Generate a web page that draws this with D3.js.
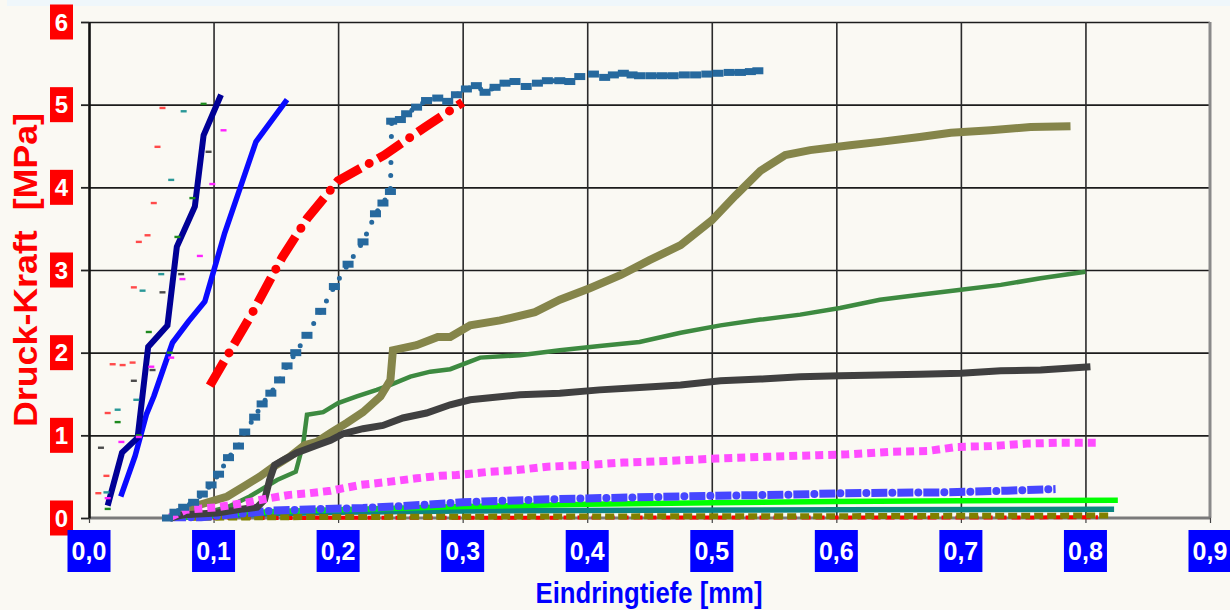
<!DOCTYPE html>
<html>
<head>
<meta charset="utf-8">
<script src="https://cdn.jsdelivr.net/npm/d3@7"></script>
<style>
  html, body { margin: 0; padding: 0; background: #FAF9F3; }
  svg { display: block; }
</style>
</head>
<body>
<svg id="chart" width="1230" height="610"></svg>
<script>
// ---- axis ticks ----
const yTickValues = [0, 1, 2, 3, 4, 5, 6];
const yTickLabels = ["0", "1", "2", "3", "4", "5", "6"];
const xTickValues = [0, 0.1, 0.2, 0.3, 0.4, 0.5, 0.6, 0.7, 0.8, 0.9];
const xTickLabels = ["0,0", "0,1", "0,2", "0,3", "0,4", "0,5", "0,6", "0,7", "0,8", "0,9"];

// ---- measured series: [Eindringtiefe mm, Druck-Kraft MPa] ----
const navySeries = [[0.015,0.15],[0.0265,0.79],[0.039,0.97],[0.0475,2.07],[0.063,2.33],[0.0705,3.28],[0.085,3.77],[0.092,4.63],[0.106,5.12]];
const blueSeries = [[0.0255,0.26],[0.037,0.75],[0.046,1.25],[0.052,1.47],[0.067,2.12],[0.08,2.38],[0.093,2.62],[0.109,3.45],[0.134,4.55],[0.159,5.06]];
const redDashDot = [[0.097,1.6],[0.13,2.45],[0.155,3.15],[0.175,3.62],[0.2,4.08],[0.237,4.39],[0.27,4.73],[0.3,5.03]];
const steelSeries = [[0.063,0.0],[0.069,0.07],[0.076,0.13],[0.084,0.19],[0.091,0.29],[0.098,0.4],[0.104,0.53],[0.112,0.73],[0.12,0.87],[0.125,1.04],[0.133,1.22],[0.139,1.38],[0.146,1.51],[0.153,1.67],[0.159,1.84],[0.166,2.0],[0.175,2.21],[0.186,2.5],[0.197,2.8],[0.208,3.07],[0.22,3.34],[0.23,3.68],[0.236,3.81],[0.242,3.95],[0.243,4.8],[0.25,4.82],[0.255,4.89],[0.263,4.97],[0.271,5.05],[0.28,5.08],[0.288,5.04],[0.295,5.12],[0.303,5.19],[0.311,5.23],[0.318,5.15],[0.326,5.21],[0.334,5.26],[0.342,5.28],[0.351,5.22],[0.36,5.26],[0.368,5.29],[0.378,5.29],[0.386,5.28],[0.394,5.34],[0.405,5.37],[0.414,5.33],[0.421,5.36],[0.429,5.38],[0.436,5.36],[0.442,5.35],[0.451,5.35],[0.46,5.35],[0.469,5.35],[0.478,5.36],[0.487,5.36],[0.496,5.37],[0.505,5.38],[0.514,5.39],[0.523,5.39],[0.531,5.4],[0.537,5.41]];
const oliveSeries = [[0.065,0.0],[0.089,0.16],[0.111,0.26],[0.124,0.38],[0.137,0.5],[0.148,0.62],[0.161,0.74],[0.173,0.88],[0.183,0.92],[0.194,1.03],[0.207,1.15],[0.22,1.28],[0.234,1.47],[0.242,1.67],[0.244,2.03],[0.263,2.09],[0.28,2.19],[0.29,2.19],[0.306,2.33],[0.33,2.39],[0.358,2.49],[0.378,2.64],[0.402,2.78],[0.427,2.94],[0.45,3.12],[0.475,3.3],[0.5,3.6],[0.519,3.9],[0.539,4.2],[0.559,4.39],[0.579,4.45],[0.611,4.51],[0.635,4.55],[0.667,4.61],[0.692,4.66],[0.724,4.69],[0.756,4.73],[0.788,4.74]];
const greenSeries = [[0.065,0.0],[0.09,0.05],[0.111,0.13],[0.129,0.26],[0.151,0.46],[0.166,0.56],[0.172,0.9],[0.175,1.25],[0.188,1.28],[0.2,1.39],[0.215,1.47],[0.231,1.55],[0.242,1.61],[0.258,1.71],[0.274,1.77],[0.29,1.8],[0.314,1.94],[0.346,1.97],[0.378,2.03],[0.41,2.08],[0.442,2.13],[0.475,2.24],[0.507,2.33],[0.539,2.4],[0.571,2.46],[0.603,2.54],[0.635,2.64],[0.667,2.7],[0.7,2.76],[0.732,2.82],[0.764,2.9],[0.8,2.98]];
const graySeries = [[0.065,0.0],[0.076,0.04],[0.103,0.06],[0.124,0.11],[0.135,0.13],[0.141,0.22],[0.145,0.46],[0.149,0.64],[0.156,0.7],[0.167,0.79],[0.183,0.88],[0.194,0.94],[0.204,1.02],[0.22,1.08],[0.236,1.12],[0.252,1.21],[0.271,1.27],[0.29,1.37],[0.306,1.43],[0.346,1.49],[0.378,1.51],[0.41,1.55],[0.442,1.58],[0.475,1.61],[0.507,1.66],[0.539,1.68],[0.571,1.71],[0.603,1.72],[0.635,1.73],[0.667,1.74],[0.7,1.75],[0.732,1.78],[0.764,1.79],[0.804,1.83]];
const magentaSeries = [[0.065,0.01],[0.078,0.1],[0.103,0.13],[0.124,0.18],[0.145,0.24],[0.161,0.28],[0.177,0.3],[0.194,0.33],[0.218,0.4],[0.242,0.44],[0.263,0.48],[0.282,0.51],[0.295,0.52],[0.322,0.56],[0.343,0.58],[0.368,0.62],[0.397,0.64],[0.429,0.67],[0.464,0.69],[0.504,0.72],[0.544,0.74],[0.585,0.76],[0.609,0.77],[0.643,0.8],[0.673,0.81],[0.697,0.86],[0.724,0.87],[0.753,0.9],[0.777,0.91],[0.81,0.91]];
const royalSeries = [[0.065,0.01],[0.09,0.01],[0.12,0.05],[0.148,0.09],[0.19,0.11],[0.22,0.12],[0.27,0.16],[0.3,0.19],[0.316,0.2],[0.378,0.23],[0.44,0.25],[0.504,0.27],[0.557,0.28],[0.606,0.3],[0.684,0.31],[0.737,0.33],[0.776,0.35]];
const limeSeries = [[0.075,0.01],[0.1,0.04],[0.15,0.08],[0.2,0.1],[0.3,0.14],[0.4,0.165],[0.5,0.185],[0.6,0.2],[0.7,0.21],[0.826,0.215]];
const tealSeries = [[0.07,0.0],[0.1,0.03],[0.15,0.05],[0.2,0.07],[0.3,0.085],[0.45,0.095],[0.6,0.1],[0.823,0.105]];
const oliveBaseSeries = [[0.07,0.0],[0.15,0.01],[0.3,0.016],[0.45,0.02],[0.6,0.022],[0.7,0.026],[0.82,0.03]];
const redBaseSeries = [[0.1,0.0],[0.3,0.004],[0.6,0.006],[0.81,0.008]];

// sparse single readings, drawn as short dash markers
const redTicks = [[0.0075,0.3],[0.014,0.51],[0.015,1.27],[0.019,1.86],[0.027,1.85],[0.035,1.88],[0.036,2.79],[0.04,3.34],[0.047,3.42],[0.052,3.81],[0.055,4.49],[0.059,4.96]];
const tealTicks = [[0.014,0.31],[0.023,1.31],[0.038,1.43],[0.043,2.75],[0.058,2.95],[0.066,4.09],[0.076,4.92]];
const greenTicks = [[0.015,0.11],[0.023,1.16],[0.04,1.0],[0.048,2.25],[0.065,2.0],[0.071,3.4],[0.083,3.87],[0.092,5.01]];
const grayTicks = [[0.0096,0.85],[0.036,1.66],[0.051,1.79],[0.059,2.73],[0.074,2.95],[0.096,4.43]];
const magentaTicks = [[0.015,0.24],[0.026,0.92],[0.04,0.98],[0.05,1.83],[0.066,1.94],[0.075,2.89],[0.089,3.17],[0.099,4.04],[0.108,4.69]];

// ---- layout ----
const svg = d3.select("#chart");
const plotL = 89, plotR = 1210, plotT = 22, plotB = 518;
const x = d3.scaleLinear().domain([0, 0.9]).range([plotL, plotR]);
const y = d3.scaleLinear().domain([0, 6]).range([plotB, plotT]);
const FONT = "'Liberation Sans', Arial, Helvetica, sans-serif";

svg.append("rect").attr("width", 1230).attr("height", 610).attr("fill", "#FAF9F3");
svg.append("rect").attr("x", 7).attr("y", 0).attr("width", 1223).attr("height", 6).attr("fill", "#EFF7FB");

// gridlines
const grid = svg.append("g");
grid.append("g")
  .attr("transform", `translate(${plotL},0)`)
  .call(d3.axisLeft(y).tickValues(yTickValues.slice(1)).tickSize(-(plotR - plotL)).tickSizeOuter(0).tickFormat(""))
  .call(g => g.select(".domain").remove())
  .call(g => g.selectAll("line").attr("stroke", "#1c1c1c").attr("stroke-width", 1.6));
grid.append("g")
  .attr("transform", `translate(0,${plotB})`)
  .call(d3.axisBottom(x).tickValues(xTickValues.slice(1, -1)).tickSize(-(plotB - plotT)).tickSizeOuter(0).tickFormat(""))
  .call(g => g.select(".domain").remove())
  .call(g => g.selectAll("line").attr("stroke", "#2a2a2a").attr("stroke-width", 1.6));

// frame
svg.append("line").attr("x1", plotR).attr("x2", plotR).attr("y1", plotT).attr("y2", plotB)
  .attr("stroke", "#8a8a8a").attr("stroke-width", 3);
svg.append("line").attr("x1", plotL).attr("x2", plotR + 1).attr("y1", plotB).attr("y2", plotB)
  .attr("stroke", "#7a7a7a").attr("stroke-width", 3);

// tick marks
svg.append("g").attr("transform", `translate(${plotL},0)`)
  .call(d3.axisLeft(y).tickValues(yTickValues).tickSize(8).tickSizeOuter(0).tickFormat(""))
  .call(g => g.select(".domain").attr("stroke", "#111").attr("stroke-width", 2.6))
  .call(g => g.selectAll(".tick line").attr("stroke", "#222").attr("stroke-width", 1.8));
svg.append("g").attr("transform", `translate(0,${plotB})`)
  .call(d3.axisBottom(x).tickValues(xTickValues).tickSize(5).tickSizeOuter(0).tickFormat(""))
  .call(g => g.select(".domain").remove())
  .call(g => g.selectAll(".tick line").attr("stroke", "#444").attr("stroke-width", 1.2));

// ---- series ----
const lineGen = d3.line().x(d => x(d[0])).y(d => y(d[1]));
const plot = svg.append("g");
function drawLine(data, color, width, opts = {}) {
  const p = plot.append("path").datum(data)
    .attr("d", lineGen)
    .attr("fill", "none")
    .attr("stroke", color)
    .attr("stroke-width", width)
    .attr("stroke-linejoin", opts.join || "miter")
    .attr("stroke-linecap", opts.cap || "butt");
  if (opts.dash) p.attr("stroke-dasharray", opts.dash);
  if (opts.offset != null) p.attr("stroke-dashoffset", opts.offset);
  return p;
}

drawLine(tealSeries, "#0C8582", 5.5);
drawLine(limeSeries, "#00FF00", 5.5);
drawLine(redBaseSeries, "#FF0000", 4, { dash: "9 5" });
drawLine(oliveBaseSeries, "#808000", 6, { dash: "9 4" });

// royal blue: dashes with dots between
drawLine(royalSeries, "#4646FF", 8, { dash: "16 10" });
drawLine(royalSeries, "#4646FF", 8, { dash: "0 26", cap: "round", offset: -21 });

drawLine(greenSeries, "#3D8A40", 4.5);
drawLine(oliveSeries, "#85854A", 8);
drawLine(graySeries, "#404040", 7);

// magenta square-dot line
drawLine(magentaSeries, "#FF4DFF", 8, { dash: "8 5" });

// steel blue: round-dot line with rectangular markers
drawLine(steelSeries, "#26699E", 5, { dash: "0 13", cap: "round" });
plot.append("g").selectAll("rect").data(steelSeries).join("rect")
  .attr("x", d => x(d[0]) - 5.5).attr("y", d => y(d[1]) - 3.5)
  .attr("width", 11).attr("height", 7).attr("fill", "#26699E");

// red dash-dot
drawLine(redDashDot, "#FF0000", 9, { dash: "28 20" });
drawLine(redDashDot, "#FF0000", 9, { dash: "0 48", cap: "round", offset: 10 });

drawLine(blueSeries, "#0A0AFF", 5.5, { join: "round" });
drawLine(navySeries, "#000096", 6);

// short dash markers
const tickSets = [
  [redTicks, "#FF4A4A"], [tealTicks, "#2A9898"], [greenTicks, "#1E8A1E"],
  [grayTicks, "#4A4A4A"], [magentaTicks, "#FF22FF"]
];
tickSets.forEach(([data, color]) => {
  plot.append("g").selectAll("rect").data(data).join("rect")
    .attr("x", d => x(d[0]) - 3).attr("y", d => y(d[1]) - 1.2)
    .attr("width", 6).attr("height", 2.4).attr("fill", color);
});

// ---- tick labels ----
const yLab = svg.append("g");
yTickValues.forEach((v, i) => {
  yLab.append("rect").attr("x", 50).attr("y", y(v) - 17.5).attr("width", 23).attr("height", 35).attr("fill", "#FF0000");
  yLab.append("text").attr("x", 61.5).attr("y", y(v) + 8.5)
    .attr("text-anchor", "middle").attr("font-family", FONT).attr("font-weight", "bold")
    .attr("font-size", 24).attr("fill", "#FFFFFF").text(yTickLabels[i]);
});
const xLab = svg.append("g");
xTickValues.forEach((v, i) => {
  xLab.append("rect").attr("x", x(v) - 21.5).attr("y", 530).attr("width", 43).attr("height", 42).attr("fill", "#0000FF");
  xLab.append("text").attr("x", x(v)).attr("y", 560)
    .attr("text-anchor", "middle").attr("font-family", FONT).attr("font-weight", "bold")
    .attr("font-size", 25).attr("fill", "#FFFFFF").text(xTickLabels[i]);
});

// ---- axis titles ----
svg.append("text")
  .attr("transform", "translate(37,270) rotate(-90)")
  .attr("text-anchor", "middle").attr("font-family", FONT).attr("font-weight", "bold")
  .attr("font-size", 34).attr("fill", "#FF0000")
  .attr("textLength", 314).attr("lengthAdjust", "spacingAndGlyphs")
  .style("white-space", "pre")
  .text("Druck-Kraft  [MPa]");
svg.append("text")
  .attr("x", 649).attr("y", 603)
  .attr("text-anchor", "middle").attr("font-family", FONT).attr("font-weight", "bold")
  .attr("font-size", 30).attr("fill", "#0000FF")
  .attr("textLength", 227).attr("lengthAdjust", "spacingAndGlyphs")
  .text("Eindringtiefe [mm]");
</script>
</body>
</html>
